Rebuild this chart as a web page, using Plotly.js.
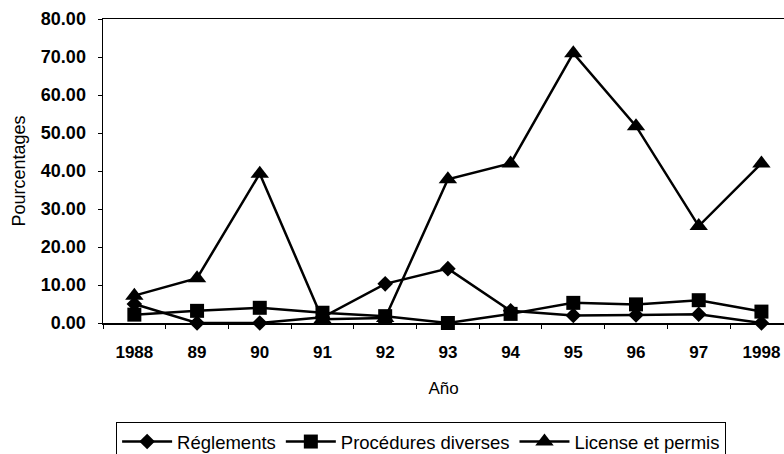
<!DOCTYPE html>
<html>
<head>
<meta charset="utf-8">
<script src="https://cdn.plot.ly/plotly-3.0.1.min.js"></script>
<style>
html,body{margin:0;padding:0;background:#fff;overflow:hidden;}
#chart{width:784px;height:454px;}
</style>
</head>
<body>
<div id="chart"></div>
<script>
const years = ["1988","89","90","91","92","93","94","95","96","97","1998"];
const reglements = [5.0, 0.0, 0.0, 1.5, 10.3, 14.3, 3.2, 2.0, 2.1, 2.3, 0.0];
const procedures = [2.2, 3.2, 4.0, 2.7, 1.8, 0.0, 2.4, 5.3, 4.9, 6.0, 3.0];
const licences = [7.2, 11.8, 39.3, 1.0, 1.3, 37.8, 42.0, 71.0, 51.8, 25.5, 42.0];
const seriesNames = ["Réglements", "Procédures diverses", "License et permis"];
const yTicks = [0,10,20,30,40,50,60,70,80];

const font = "Arial, 'Liberation Sans', sans-serif";
const symbols = ["diamond", "square", "triangle-up"];
const sizes = [12, 14, 16];
const data = [reglements, procedures, licences].map((vals, i) => ({
  type: "scatter",
  mode: "lines+markers",
  x: years,
  y: vals,
  name: seriesNames[i],
  line: {color: "#000", width: 2.5},
  marker: {symbol: symbols[i], size: sizes[i], color: "#000"},
  cliponaxis: false
}));

const layout = {
  width: 784, height: 454,
  margin: {l: 103, r: 0, t: 19, b: 131, autoexpand: false},
  paper_bgcolor: "#fff", plot_bgcolor: "#fff",
  font: {family: font, size: 18, color: "#000"},
  showlegend: true,
  xaxis: {
    type: "category",
    range: [-0.5, 10.36],
    showline: true, linecolor: "#000", linewidth: 1.5, mirror: true,
    ticks: "outside", tickson: "boundaries", ticklen: 4, tickcolor: "#000",
    showgrid: false, zeroline: false, automargin: false,
    tickfont: {family: font, size: 17, color: "#000", weight: "bold"},
    ticklabelstandoff: 13,
    title: {text: "Año", font: {family: font, size: 17, color: "#000"}, standoff: 21}
  },
  yaxis: {
    range: [0, 80],
    tickvals: yTicks,
    tickformat: ".2f",
    showline: true, linecolor: "#000", linewidth: 1.5,
    ticks: "outside", ticklen: 4, tickcolor: "#000",
    showgrid: false, zeroline: false, automargin: false,
    tickfont: {family: font, size: 18, color: "#000", weight: "bold"},
    ticklabelstandoff: 8,
    title: {text: "Pourcentages", font: {family: font, size: 18, color: "#000"}, standoff: 10}
  },
  legend: {
    orientation: "h",
    x: 0.915, xanchor: "right",
    y: -0.3257, yanchor: "top",
    bordercolor: "#000", borderwidth: 1,
    font: {family: font, size: 18.5, color: "#000"},
    itemwidth: 50,
    traceorder: "normal"
  }
};

Plotly.newPlot("chart", data, layout, {displayModeBar: false, staticPlot: true});
</script>
</body>
</html>
